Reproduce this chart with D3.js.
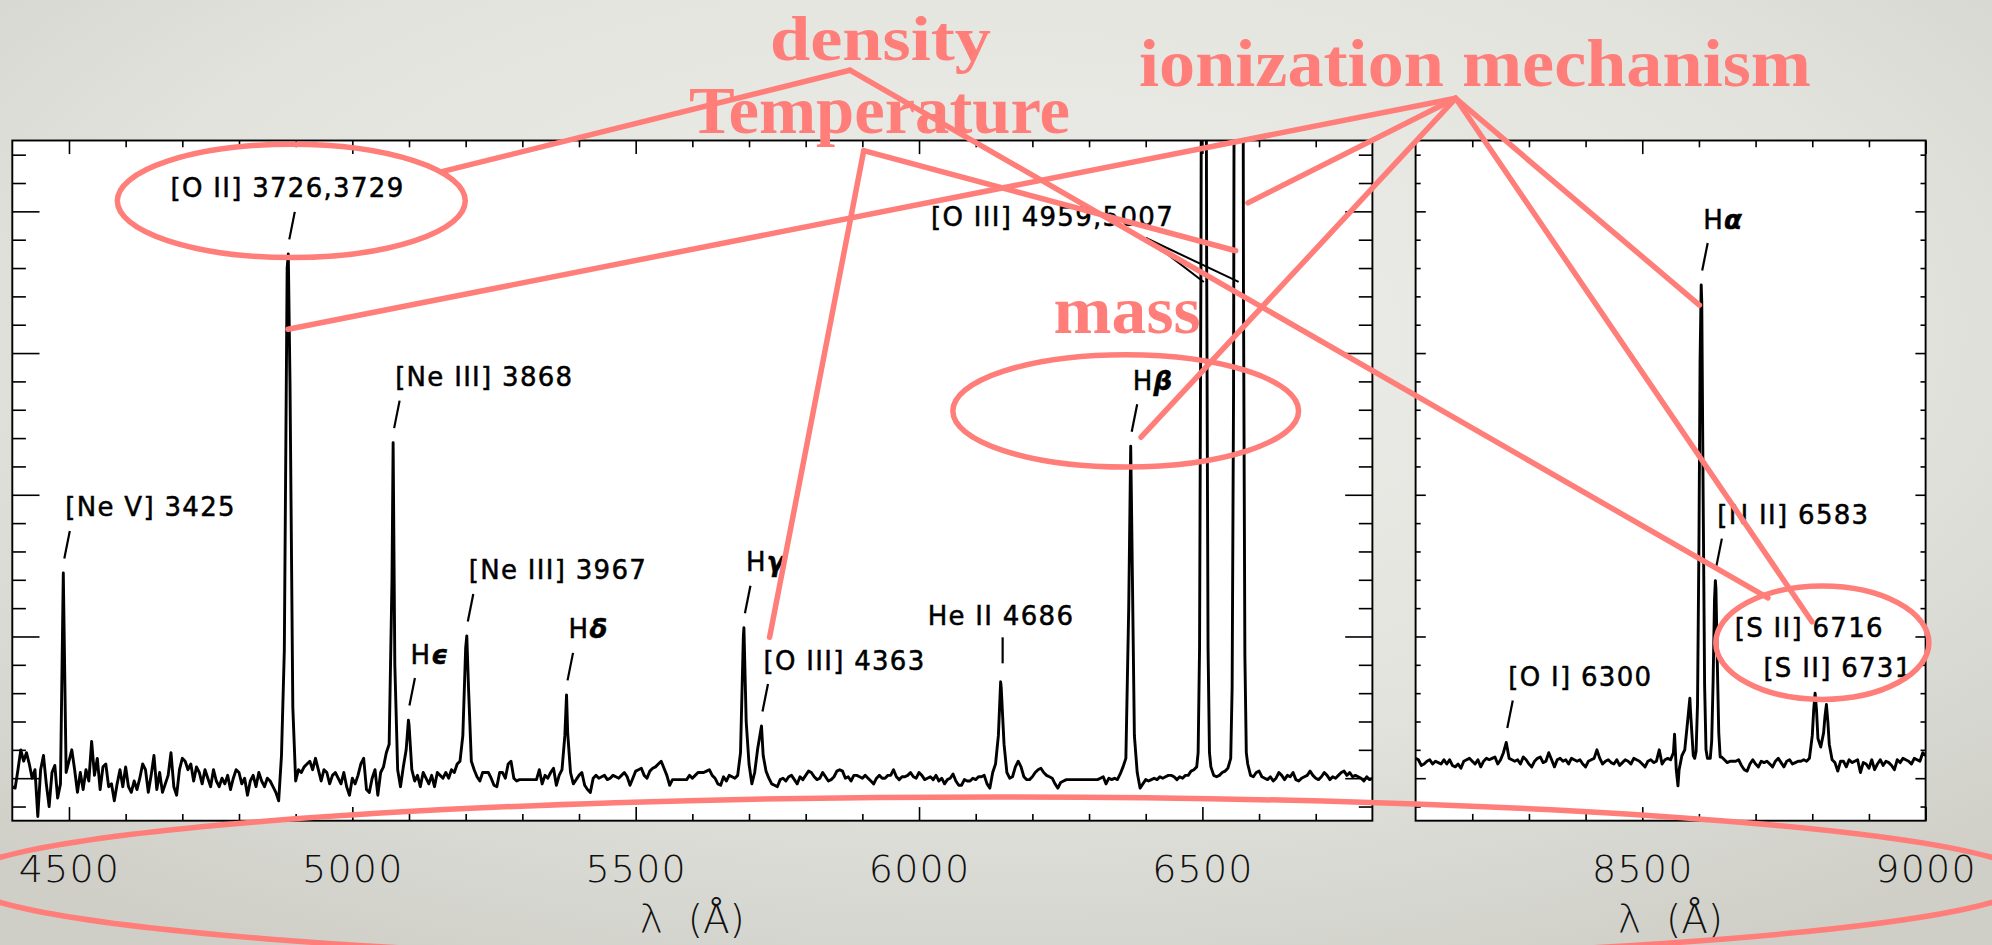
<!DOCTYPE html>
<html><head><meta charset="utf-8">
<script src="https://cdn.jsdelivr.net/npm/d3@7"></script>
<style>html,body{margin:0;padding:0;overflow:hidden;background:#e2e2dd}</style>
</head><body>
<svg id="chart" width="1992" height="945"></svg>
<script>
// ================= DATA =================
// Observed-frame spectrum, flux in arbitrary units, sampled every 5 Å
const gridStep = 5;
const leftStart = 4400;
const leftFlux = [
 -0.3,-0.35,0.3,1.0,0.6,0.9,0.5,0.0,0.3,-1.35,
 0.3,0.8,-0.2,-1.0,0.2,0.45,-0.7,-0.2,7.24,0.2,
 0.6,1.0,0.3,-0.5,0.2,-0.4,0.3,-0.1,1.3,0.1,
 0.7,-0.4,0.4,0.5,-0.3,-0.2,-0.8,-0.2,0.3,-0.3,
 0.4,-0.3,-0.5,-0.1,-0.4,0.0,0.5,0.3,-0.5,0.1,
 0.8,-0.4,0.2,-0.5,-0.2,0.1,0.9,-0.3,-0.6,0.3,
 0.7,0.6,0.3,0.5,-0.1,0.4,0.2,-0.2,0.3,0.0,
 -0.3,0.3,-0.1,-0.3,0.0,-0.2,0.1,-0.4,0.0,0.3,
 0.2,-0.2,0.0,-0.6,-0.1,0.1,-0.3,0.2,-0.1,-0.3,
 0.0,-0.1,-0.3,-0.5,-0.8,0.8,4.5,18.0,14.0,2.5,
 -0.1,0.3,0.2,0.4,0.5,0.6,0.3,0.7,0.3,-0.1,
 0.3,0.2,-0.2,0.1,0.2,0.0,-0.2,0.2,-0.3,-0.6,
 0.0,-0.2,0.1,0.5,0.7,-0.4,-0.5,0.0,0.3,-0.6,
 0.2,0.4,0.9,1.2,7.0,4.0,0.3,-0.3,0.4,1.0,
 1.9,0.3,-0.1,0.1,-0.3,0.2,0.0,-0.2,0.1,-0.3,
 0.2,0.1,0.0,0.2,0.0,0.3,0.2,0.5,0.6,1.5,
 4.6,3.2,0.6,0.3,0.05,-0.1,0.2,0.2,0.2,0.0,
 -0.25,-0.3,0.2,0.2,0.0,0.5,0.6,0.0,-0.1,-0.05,
 -0.05,-0.05,-0.05,-0.05,-0.05,-0.05,0.3,-0.2,0.1,0.0,
 0.2,0.35,-0.25,0.1,0.3,1.5,1.6,0.2,-0.2,-0.05,
 0.1,0.2,-0.25,-0.4,-0.5,0.0,0.1,0.0,0.05,0.1,
 -0.05,0.0,0.1,0.05,0.0,0.1,0.2,0.05,-0.25,0.0,
 0.25,0.3,0.35,0.1,0.0,0.25,0.35,0.4,0.5,0.6,
 0.35,0.1,-0.25,-0.05,-0.05,-0.05,-0.05,-0.05,-0.05,0.1,
 0.0,0.1,0.2,0.2,0.2,0.25,0.3,0.1,0.0,-0.2,
 -0.25,0.05,-0.1,0.1,0.05,0.0,0.1,0.9,5.0,2.0,
 0.5,-0.2,0.2,1.0,1.6,0.8,0.25,0.0,-0.2,-0.25,
 -0.3,-0.05,0.0,-0.1,0.05,0.1,-0.05,-0.2,0.05,-0.05,
 0.1,0.25,0.2,0.05,-0.05,0.0,0.2,0.05,-0.1,-0.05,
 0.05,0.25,0.3,0.25,0.0,0.05,-0.1,0.1,0.1,0.05,
 0.0,0.1,0.0,-0.1,-0.2,0.0,0.1,0.0,0.0,0.1,
 0.1,0.3,0.05,-0.05,0.05,0.05,0.1,0.2,0.05,0.0,
 0.2,0.1,-0.05,0.0,0.05,-0.05,0.1,-0.1,0.0,-0.2,
 -0.05,0.0,0.15,-0.1,-0.25,-0.25,-0.05,-0.1,-0.1,0.0,
 -0.05,0.05,0.05,0.1,-0.2,-0.35,0.2,0.5,1.5,3.2,
 1.2,0.2,0.0,0.05,0.4,0.6,0.4,0.05,-0.05,-0.05,
 0.05,0.2,0.3,0.35,0.2,0.1,0.05,0.0,-0.2,-0.35,
 -0.15,-0.1,-0.05,-0.05,-0.05,-0.05,-0.05,-0.05,-0.05,-0.05,
 -0.05,-0.05,-0.05,-0.05,0.0,0.05,-0.2,0.0,-0.05,0.0,
 -0.05,0.15,0.4,0.7,6.0,9.5,1.5,0.2,-0.35,-0.2,
 -0.05,-0.1,-0.05,0.0,-0.05,0.05,0.0,0.05,0.1,0.1,
 0.05,-0.05,0.05,0.0,0.1,0.1,0.25,0.3,0.4,4.6,
 42.8,42.8,4.6,0.4,0.1,0.05,0.1,0.2,0.25,0.35,
 0.7,13.6,92,144,50.7,4.3,0.5,0.1,0.05,0.2,
 0.25,0.05,0.0,-0.05,0.05,-0.1,0.0,0.2,0.1,-0.05,
 0.1,0.05,0.2,-0.05,-0.1,0.0,0.05,0.1,0.25,0.1,
 0.0,-0.05,0.05,0.2,0.1,-0.05,0.05,0.0,0.1,0.2,
 0.25,0.1,0.2,0.05,0.1,0.05,0.0,-0.1,0.05,-0.05,
 0.0
];
// extra samples on the emission-line cores [wavelength, flux]
const leftCores = [
 [4887,18.5],[5072,11.84],[5099,2.05],[5202,5.02],[5378,2.94],[5691,5.31],[5722,1.84],
 [6144,3.4],[6373.5,11.71],
 [6492.5,0.9],[6497.5,18.4],[6502.5,57],[6507.5,18.4],[6512.5,0.9],
 [6552.5,3.2],[6557.5,42],[6562.5,138],[6564,148],[6567.5,103],[6572.5,17.2],[6577.5,0.9]
];
const rightStart = 8100;
const rightFlux = [
 0.7,0.65,0.45,0.5,0.6,0.65,0.5,0.6,0.55,0.5,
 0.65,0.5,0.65,0.45,0.4,0.5,0.35,0.6,0.65,0.7,
 0.6,0.5,0.65,0.4,0.6,0.7,0.65,0.7,0.75,0.5,
 0.65,0.9,1.26,0.7,0.65,0.6,0.65,0.5,0.75,0.65,
 0.5,0.4,0.6,0.7,0.75,0.55,0.6,0.9,0.65,0.4,
 0.65,0.7,0.6,0.65,0.5,0.7,0.65,0.6,0.65,0.5,
 0.4,0.6,0.65,0.7,1.0,0.7,0.5,0.6,0.65,0.55,
 0.5,0.65,0.45,0.55,0.65,0.6,0.5,0.7,0.65,0.6,
 0.5,0.4,0.6,0.65,0.55,0.6,1.0,0.5,0.65,0.7,
 0.65,0.9,0.3,0.3,0.8,1.0,2.0,2.4,0.8,0.95,
 8.2,16.8,3.3,0.7,0.7,3.4,6.7,1.6,0.75,0.65,
 0.55,0.6,0.6,0.6,0.65,0.45,0.3,0.25,0.5,0.65,
 0.5,0.4,0.6,0.55,0.6,0.5,0.4,0.6,0.7,0.55,
 0.4,0.6,0.65,0.5,0.55,0.6,0.6,0.65,0.6,0.7,
 1.5,3.0,1.4,1.1,1.6,2.6,1.2,0.65,0.55,0.25,
 0.6,0.6,0.4,0.65,0.55,0.6,0.65,0.2,0.55,0.5,
 0.35,0.65,0.3,0.5,0.65,0.45,0.6,0.55,0.45,0.3,
 0.65,0.55,0.7,0.65,0.6,0.5,0.7,0.65,0.6,0.9,
 0.8
];
const rightCores = [
 [8557,1.55],[8563,-0.27],[8584,2.82],[8592.5,0.7],[8597.5,2.6],[8602,14.7],[8604,17.4],
 [8607.5,9.8],[8612.5,1.0],[8617.5,0.7],[8622.5,1.3],[8627.5,6.3],[8629,6.97],[8632.5,4.0],
 [8637.5,0.75],[8802.5,2.4],[8807.5,2.4],[8822.5,2.2],[8827.5,2.0]
];

// axis ticks
const leftMajorTicks = [4500,5000,5500,6000,6500];
const leftMinorTicks = [4500,4600,4700,4800,4900,5000,5100,5200,5300,5400,5500,5600,5700,5800,5900,6000,6100,6200,6300,6400,6500,6600,6700];
const rightMajorTicks = [8500,9000];
const rightMinorTicks = [8200,8300,8400,8500,8600,8700,8800,8900];
const yMajorTicks = [0,5,10,15,20];
const yMinorTicks = [-1,0,1,2,3,4,5,6,7,8,9,10,11,12,13,14,15,16,17,18,19,20,21,22];
const xTitle = "λ\u00a0\u00a0(Å)";

// line identifications: text, wavelength and flux of the marked peak
const labelsLeft = [
 {text:"[Ne V] 3425", wave:4490, flux:7.24},
 {text:"[O II] 3726,3729", wave:4887, flux:18.5},
 {text:"[Ne III] 3868", wave:5072, flux:11.84},
 {text:"Hϵ", wave:5099, flux:2.05},
 {text:"[Ne III] 3967", wave:5202, flux:5.02},
 {text:"Hδ", wave:5378, flux:2.94},
 {text:"Hγ", wave:5691, flux:5.31},
 {text:"[O III] 4363", wave:5722, flux:1.84},
 {text:"He II 4686", wave:6144, flux:3.4},
 {text:"Hβ", wave:6373.5, flux:11.71}
];
const labelsRight = [
 {text:"[O I] 6300", wave:8260, flux:1.26},
 {text:"Hα", wave:8604, flux:17.4},
 {text:"[N II] 6583", wave:8629, flux:6.97},
 {text:"[S II] 6716", wave:8805, flux:3.0},
 {text:"[S II] 6731", wave:8825, flux:2.6}
];
const oiiiText = "[O III] 4959,5007";
const oiiiWaves = [6502.5, 6564];

// pink annotation layer (slide overlay), in data coordinates [panel, wavelength, flux]
const annoTexts = [
 {text:"density", at:["L",5932,25.35], len:221},
 {text:"Temperature", at:["L",5930.3,22.75], len:381},
 {text:"ionization mechanism", at:["L",6981,24.42], len:672},
 {text:"mass", at:["L",6367.2,15.71], len:147}
];
const annoFans = [
 {apex:["L",5878,24.98], ends:[["L",5158,21.40],["R",8721.7,6.36]]},
 {apex:["L",5902.4,22.14], ends:[["L",5736.3,4.97],["L",6558.8,18.61]]},
 {apex:["R",8170.7,23.99], ends:[["L",4886.5,15.84],["L",6580.4,20.30],["L",6391.8,12.03],["R",8600.8,16.69],["R",8799.5,5.52]]}
];
// ellipses: center [panel, wave, flux], radii in Å and flux units
const annoEllipses = [
 {c:["L",4892.3,20.37], rw:307, rf:2.0},
 {c:["L",6364.7,12.96], rw:305, rf:1.98},
 {c:["R",8817.8,4.78], rw:188, rf:2.0},
 {c:["L",6135.8,-3.59], rw:1826, rf:2.93}
];

// ================= DRAWING =================
const svg = d3.select("#chart");
const defs = svg.append("defs");
const bg = defs.append("radialGradient").attr("id","bg").attr("cx","50%").attr("cy","35%").attr("r","75%");
bg.append("stop").attr("offset","0%").attr("stop-color","#eeeeea");
bg.append("stop").attr("offset","60%").attr("stop-color","#e3e3de");
bg.append("stop").attr("offset","100%").attr("stop-color","#cfcfc8");
svg.append("rect").attr("width",1992).attr("height",945).attr("fill","url(#bg)");

const y = d3.scaleLinear().domain([-1.5,22.5]).range([820.7,140.5]);
const xL = d3.scaleLinear().domain([4400,6800]).range([12.3,1372.4]);
const xR = d3.scaleLinear().domain([8100,9000]).range([1415.6,1925.6]);
const PINK = "#ff7e79";

function buildSeries(start, flux, cores){
  const coreSet = new Set(cores.map(c=>c[0]));
  const pts = flux.map((v,i)=>[start+i*gridStep, v]).filter(p=>!coreSet.has(p[0]));
  return pts.concat(cores).sort((a,b)=>a[0]-b[0]);
}

function drawPanel(id, x, series, majors, minors){
  const [x0,x1] = x.range();
  const top = y.range()[1], bot = y.range()[0];
  const w = x1-x0, h = bot-top;
  const g = svg.append("g");
  g.append("rect").attr("x",x0).attr("y",top).attr("width",w).attr("height",h).attr("fill","#fff");
  defs.append("clipPath").attr("id","clip"+id).append("rect").attr("x",x0).attr("y",top).attr("width",w).attr("height",h);
  g.append("path").datum(series)
    .attr("clip-path",`url(#clip${id})`)
    .attr("d", d3.line().x(d=>x(d[0])).y(d=>y(d[1])))
    .attr("fill","none").attr("stroke","#000").attr("stroke-width",2.9).attr("stroke-linejoin","round");
  const xLen = 0.02*h, yLen = 0.02*w;
  const minorsX = minors.filter(t=>!majors.includes(t));
  const minorsY = yMinorTicks.filter(t=>!yMajorTicks.includes(t));
  const style = s=>{ s.select(".domain").remove(); s.selectAll("line").attr("stroke","#000").attr("stroke-width",1.6); };
  g.append("g").attr("transform",`translate(0,${bot})`).call(d3.axisBottom(x).tickValues(minorsX).tickSize(-xLen/2).tickFormat("")).call(style);
  const bAx = g.append("g").attr("transform",`translate(0,${bot})`).call(d3.axisBottom(x).tickValues(majors).tickSize(-xLen).tickPadding(34).tickFormat(d3.format("d"))).call(style);
  bAx.selectAll("text").attr("font-family","DejaVu Sans").attr("font-weight",300).attr("font-size",38).attr("letter-spacing",1.2).attr("fill","#111");
  g.append("g").attr("transform",`translate(0,${top})`).call(d3.axisTop(x).tickValues(minorsX).tickSize(-xLen/2).tickFormat("")).call(style);
  g.append("g").attr("transform",`translate(0,${top})`).call(d3.axisTop(x).tickValues(majors).tickSize(-xLen).tickFormat("")).call(style);
  g.append("g").attr("transform",`translate(${x0},0)`).call(d3.axisLeft(y).tickValues(minorsY).tickSize(-yLen/2).tickFormat("")).call(style);
  g.append("g").attr("transform",`translate(${x0},0)`).call(d3.axisLeft(y).tickValues(yMajorTicks).tickSize(-yLen).tickFormat("")).call(style);
  g.append("g").attr("transform",`translate(${x1},0)`).call(d3.axisRight(y).tickValues(minorsY).tickSize(-yLen/2).tickFormat("")).call(style);
  g.append("g").attr("transform",`translate(${x1},0)`).call(d3.axisRight(y).tickValues(yMajorTicks).tickSize(-yLen).tickFormat("")).call(style);
  g.append("rect").attr("x",x0).attr("y",top).attr("width",w).attr("height",h).attr("fill","none").attr("stroke","#000").attr("stroke-width",1.9);
  g.append("text").attr("x",(x0+x1)/2).attr("y",933).attr("text-anchor","middle")
    .attr("font-family","DejaVu Sans").attr("font-weight",300).attr("font-size",39).attr("fill","#111").text(xTitle);
  return g;
}

drawPanel("L", xL, buildSeries(leftStart,leftFlux,leftCores), leftMajorTicks, leftMinorTicks);
drawPanel("R", xR, buildSeries(rightStart,rightFlux,rightCores), rightMajorTicks, rightMinorTicks);

// ---- black line identifications ----
const labelLayout = {
 "[O II] 3726,3729": {anchor:"middle", dx:-0.8},
 "He II 4686": {anchor:"middle", dx:0.3, leader:"vertical"},
 "[S II] 6716": {dx:-80.4, leader:"none"},
 "[S II] 6731": {dx:-63, dy:29.2, leader:"none"}
};
const labG = svg.append("g");
function setLabelText(t, text){
  if (text.length===2 && text[0]==="H"){
    t.append("tspan").text("H");
    t.append("tspan").attr("font-style","italic").attr("font-weight","bold").text(text[1]);
  } else t.text(text);
}
function labelText(xp, yb, anchor){
  return labG.append("text").attr("x",xp).attr("y",yb).attr("text-anchor",anchor)
    .attr("font-family","DejaVu Sans").attr("font-size",26).attr("letter-spacing",1.3)
    .attr("fill","#000").attr("stroke","#000").attr("stroke-width",0.5);
}
function drawLabels(x, labels){
  labels.forEach(d=>{
    const lay = Object.assign({dx:2, dy:0, anchor:"start", leader:"slant"}, labelLayout[d.text]||{});
    const xp = x(d.wave), yp = y(d.flux);
    if (lay.leader==="slant"){
      labG.append("line").attr("x1",xp+1).attr("y1",yp-14.5).attr("x2",xp+6.5).attr("y2",yp-42)
        .attr("stroke","#000").attr("stroke-width",2.2);
    } else if (lay.leader==="vertical"){
      labG.append("line").attr("x1",xp+2).attr("y1",yp-18.5).attr("x2",xp+2).attr("y2",yp-44.5)
        .attr("stroke","#000").attr("stroke-width",2.2);
    }
    const t = labelText(xp+lay.dx, yp-56.5+lay.dy, lay.anchor);
    setLabelText(t, d.text);
  });
}
drawLabels(xL, labelsLeft);
drawLabels(xR, labelsRight);
// [O III] doublet label with forked leader
setLabelText(labelText(xL(6021.1), y(19.48), "start"), oiiiText);
oiiiWaves.forEach(wv=>{
  labG.append("line").attr("x1",xL(6400.5)).attr("y1",y(19.06)).attr("x2",xL(wv)).attr("y2",y(17.51))
    .attr("stroke","#000").attr("stroke-width",2);
});

// ---- pink annotation overlay ----
function P(p){ const x = p[0]==="L"?xL:xR; return [x(p[1]), y(p[2])]; }
const ann = svg.append("g");
annoFans.forEach(f=>{
  const a = P(f.apex);
  f.ends.forEach(e=>{
    const b = P(e);
    ann.append("line").attr("x1",a[0]).attr("y1",a[1]).attr("x2",b[0]).attr("y2",b[1])
      .attr("stroke",PINK).attr("stroke-width",5.5).attr("stroke-linecap","round");
  });
});
annoEllipses.forEach(e=>{
  const c = P(e.c);
  const rx = Math.abs(xL(e.c[1]+e.rw)-xL(e.c[1]));
  const ry = Math.abs(y(e.rf)-y(0));
  ann.append("ellipse").attr("cx",c[0]).attr("cy",c[1]).attr("rx",rx).attr("ry",ry)
    .attr("fill","none").attr("stroke",PINK).attr("stroke-width",5.5);
});
annoTexts.forEach(t=>{
  const c = P(t.at);
  ann.append("text").attr("x",c[0]).attr("y",c[1]).attr("text-anchor","middle")
    .attr("font-family","Liberation Serif").attr("font-weight","bold").attr("font-size",t.text==="density"?64:68)
    .attr("textLength",t.len).attr("lengthAdjust","spacingAndGlyphs")
    .attr("fill",PINK).text(t.text);
});
</script>
</body></html>
